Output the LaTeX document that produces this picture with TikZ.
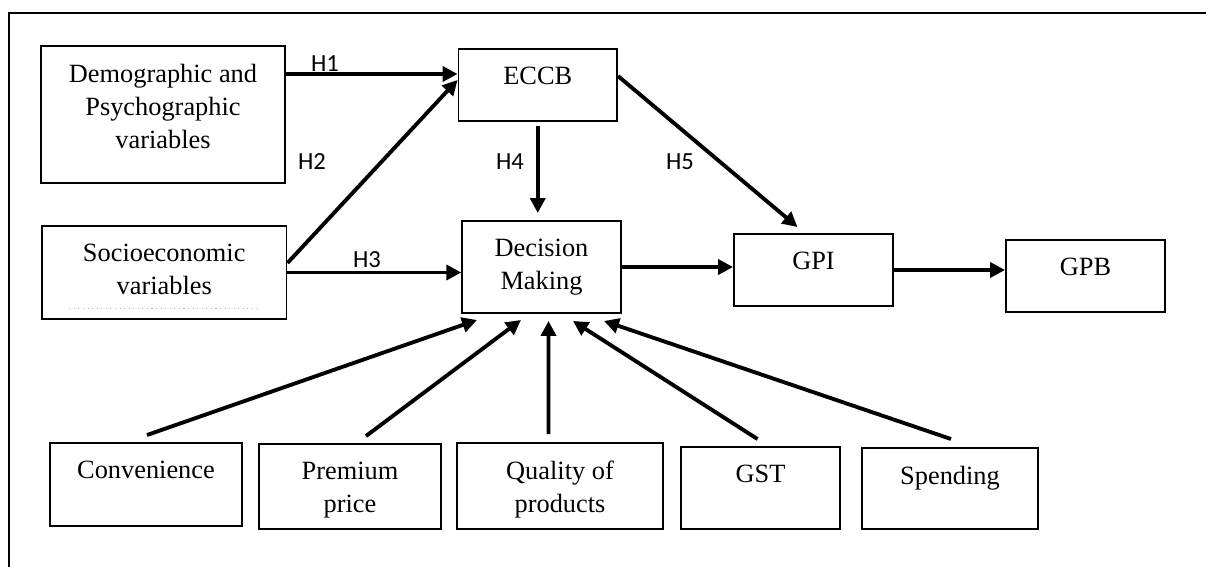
\documentclass[tikz,border=0pt]{standalone}
\usepackage{fontspec}
\setmainfont{Liberation Serif}
\newfontfamily\hypfont{Carlito}
\usepackage{tikz}
\usetikzlibrary{arrows.meta,positioning}

\begin{document}
\begin{tikzpicture}[
  arr/.style={-{Triangle[length=8.5pt,width=8.5pt]},line width=2.2pt},
  box/.style={draw,line width=1.1pt,inner sep=0pt},
  boxtext/.style={inner sep=0pt,align=center,font=\fontsize{15}{18.8}\selectfont},
  hyp/.style={inner sep=0pt,font=\hypfont\fontsize{14}{16}\selectfont}]
  \useasboundingbox (0,0) rectangle (24.12,11.34);
  % Frame
  \draw[line width=1.1pt] (0.18,0) -- (0.18,11.08) -- (24.12,11.08);
  % Antecedents
  \node[box,minimum width=4.88cm,minimum height=2.74cm] (demo) at (3.26,9.05) {};
  \node[boxtext,below=0.38cm of demo.north] (demotext) {Demographic and\\Psychographic\\variables};
  \node[box,minimum width=4.89cm,minimum height=1.86cm] (socio) at (3.285,5.89) {};
  \node[boxtext,below=0.38cm of socio.north] (sociotext) {Socioeconomic\\variables};
  \draw[gray!60,dotted,line width=0.6pt] ([xshift=-1.9cm,yshift=0.22cm]socio.south) -- ([xshift=1.9cm,yshift=0.22cm]socio.south);
  % Middle column
  \node[box,minimum width=3.17cm,minimum height=1.44cm] (eccb) at (10.755,9.64) {};
  \node[boxtext,below=0.38cm of eccb.north] (eccbtext) {ECCB};
  \node[box,minimum width=3.17cm,minimum height=1.84cm] (dm) at (10.83,6.00) {};
  \node[boxtext,below=0.38cm of dm.north] (dmtext) {Decision\\Making};
  % Outcomes
  \node[box,minimum width=3.18cm,minimum height=1.44cm] (gpi) at (16.27,5.94) {};
  \node[boxtext,below=0.38cm of gpi.north] (gpitext) {GPI};
  \node[box,minimum width=3.18cm,minimum height=1.44cm] (gpb) at (21.71,5.82) {};
  \node[boxtext,below=0.38cm of gpb.north] (gpbtext) {GPB};
  % Factors
  \node[box,minimum width=3.84cm,minimum height=1.66cm] (conv) at (2.92,1.65) {};
  \node[boxtext,below=0.38cm of conv.north] (convtext) {Convenience};
  \node[box,minimum width=3.64cm,minimum height=1.70cm] (prem) at (7.00,1.61) {};
  \node[boxtext,below=0.38cm of prem.north] (premtext) {Premium\\price};
  \node[box,minimum width=4.12cm,minimum height=1.72cm] (qual) at (11.20,1.62) {};
  \node[boxtext,below=0.38cm of qual.north] (qualtext) {Quality of\\products};
  \node[box,minimum width=3.18cm,minimum height=1.64cm] (gst) at (15.21,1.58) {};
  \node[boxtext,below=0.38cm of gst.north] (gsttext) {GST};
  \node[box,minimum width=3.52cm,minimum height=1.62cm] (spend) at (19.00,1.57) {};
  \node[boxtext,below=0.38cm of spend.north] (spendtext) {Spending};
  % Hypotheses
  \coordinate (h1end) at ([yshift=0.22cm]eccb.west);
  \draw[arr] (h1end -| demo.east) -- (h1end);
  \draw[arr] ([yshift=0.19cm]socio.east) -- ([yshift=0.1cm]eccb.west);
  \draw[arr] (socio.east) -- (socio.east -| dm.west);
  \draw[arr,shorten <=0.08cm,shorten >=0.14cm] (eccb.south) -- (eccb.south |- dm.north);
  \draw[arr] ([yshift=0.18cm]eccb.east) -- ([xshift=-0.32cm,yshift=0.12cm]gpi.north);
  \node[hyp] (h1) at (6.50,10.07) {H1};
  \node[hyp] (h2) at (6.24,8.10) {H2};
  \node[hyp] (h3) at (7.34,6.14) {H3};
  \node[hyp] (h4) at (10.20,8.10) {H4};
  \node[hyp] (h5) at (13.60,8.10) {H5};
  % Towards behaviour
  \draw[arr] (dm.east) -- (dm.east -| gpi.west);
  \draw[arr] (gpi.east) -- (gpi.east -| gpb.west);
  % Factors into decision making
  \draw[arr] ([xshift=0.02cm,yshift=0.14cm]conv.north) -- ([xshift=-1.29cm,yshift=-0.12cm]dm.south);
  \draw[arr] ([xshift=0.32cm,yshift=0.14cm]prem.north) -- ([xshift=-0.41cm,yshift=-0.12cm]dm.south);
  \draw[arr] ([xshift=-0.23cm,yshift=0.16cm]qual.north) -- ([xshift=0.14cm,yshift=-0.14cm]dm.south);
  \draw[arr] ([xshift=-0.06cm,yshift=0.14cm]gst.north) -- ([xshift=0.63cm,yshift=-0.14cm]dm.south);
  \draw[arr] ([xshift=0.02cm,yshift=0.16cm]spend.north) -- ([xshift=1.25cm,yshift=-0.14cm]dm.south);
\end{tikzpicture}
\end{document}
